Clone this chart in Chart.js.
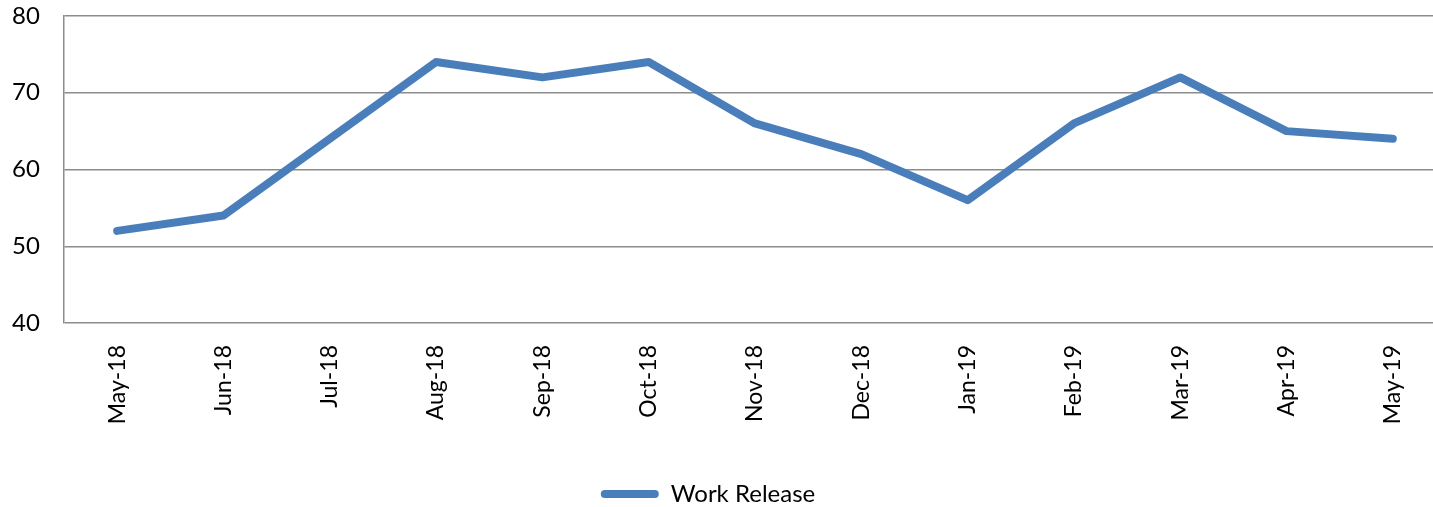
<!DOCTYPE html>
<html>
<head>
<meta charset="utf-8">
<script src="https://cdn.jsdelivr.net/npm/chart.js@4"></script>
<style>
  html, body { margin: 0; padding: 0; background: #fff; overflow: hidden; }
  /* the original plot runs a bit past the right edge of the picture */
  #wrap { width: 1447px; height: 507px; }
</style>
</head>
<body>
<div id="wrap"><canvas id="chart"></canvas></div>
<script>
const months = ['May-18', 'Jun-18', 'Jul-18', 'Aug-18', 'Sep-18', 'Oct-18', 'Nov-18',
  'Dec-18', 'Jan-19', 'Feb-19', 'Mar-19', 'Apr-19', 'May-19'];
const workRelease = [52, 54, 64, 74, 72, 74, 66, 62, 56, 66, 72, 65, 64];
const yMin = 40;
const yMax = 80;
const yStep = 10;

const blue = '#4a7ebb';
const grey = '#8c8c8c';

Chart.defaults.font.family = 'Lato, "Open Sans", sans-serif';
Chart.defaults.color = '#000';

// nudge the legend left so it sits where the original one is
const legendShift = {
  id: 'legendShift',
  afterLayout(chart) {
    chart.legend.left -= 21;
    chart.legend.right -= 21;
  }
};

const ctx = document.getElementById('chart').getContext('2d');
new Chart(ctx, {
  type: 'line',
  data: {
    labels: months,
    datasets: [{
      label: 'Work Release',
      data: workRelease,
      borderColor: blue,
      backgroundColor: blue,
      borderWidth: 8,
      borderCapStyle: 'round',
      borderJoinStyle: 'round',
      pointRadius: 0,
      tension: 0
    }]
  },
  plugins: [legendShift],
  options: {
    responsive: true,
    maintainAspectRatio: false,
    animation: false,
    layout: { padding: { top: 16, right: 1, left: 12, bottom: -9 } },
    plugins: {
      tooltip: { enabled: false },
      legend: {
        position: 'bottom',
        labels: {
          font: { size: 24 },
          boxWidth: 58,
          boxHeight: 8,
          useBorderRadius: true,
          borderRadius: 4,
          padding: 0,
          generateLabels: chart => chart.data.datasets.map((ds, i) => ({
            text: ds.label,
            fillStyle: ds.borderColor,
            strokeStyle: ds.borderColor,
            lineWidth: 0,
            borderRadius: 4,
            datasetIndex: i
          }))
        }
      }
    },
    scales: {
      x: {
        offset: true,
        grid: { display: false },
        border: { display: false },
        ticks: {
          minRotation: 90,
          maxRotation: 90,
          padding: 14,
          font: { size: 23 }
        },
        afterFit: scale => { scale.height = 159; }
      },
      y: {
        min: yMin,
        max: yMax,
        ticks: { stepSize: yStep, padding: 0, crossAlign: 'far', font: { size: 24 } },
        grid: { color: grey, lineWidth: 1.5, drawTicks: false },
        border: { color: grey, width: 1.5 },
        afterFit: scale => { scale.width = 52; }
      }
    }
  }
});
</script>
</body>
</html>
